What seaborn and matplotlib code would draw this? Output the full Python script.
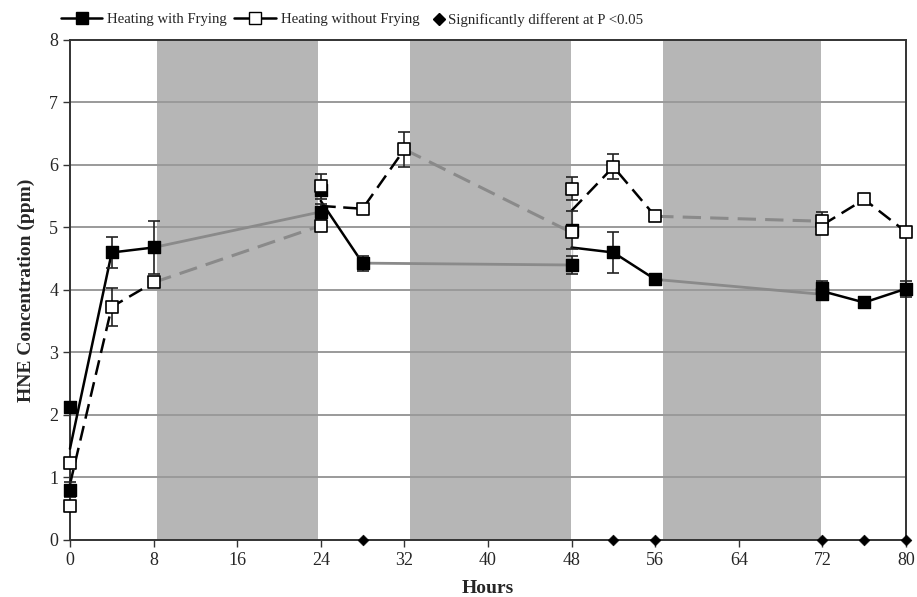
import matplotlib
matplotlib.use("Agg")
import matplotlib.pyplot as plt
import seaborn as sns
import pandas as pd
import numpy as np
from matplotlib.lines import Line2D

# ---------------- data ----------------
fry_hours = [0, 0, 4, 8, 24, 24, 28, 48, 48, 52, 56, 72, 72, 76, 80]
fry_hne = [0.80, 2.12, 4.60, 4.68, 5.25, 5.60, 4.43, 4.40, 4.96, 4.60, 4.17, 3.93, 4.03, 3.80, 4.02]
fry_sd = [0.12, 0.05, 0.25, 0.42, 0.12, 0.10, 0.12, 0.15, 0.30, 0.33, 0.05, 0.05, 0.12, 0.05, 0.13]
fry_day = [1, 1, 1, 1, 2, 2, 2, 3, 3, 3, 3, 4, 4, 4, 4]

nofry_hours = [0, 0, 4, 8, 24, 24, 28, 32, 48, 48, 52, 56, 72, 72, 76, 80]
nofry_hne = [0.55, 1.23, 3.73, 4.12, 5.03, 5.66, 5.30, 6.25, 4.92, 5.62, 5.97, 5.18, 5.10, 4.98, 5.45, 4.93]
nofry_sd = [0.05, 0.05, 0.30, 0.05, 0.05, 0.20, 0.05, 0.28, 0.08, 0.18, 0.20, 0.03, 0.15, 0.05, 0.08, 0.03]
nofry_day = [1, 1, 1, 1, 2, 2, 2, 2, 3, 3, 3, 3, 4, 4, 4, 4]

sig_hours = [28, 52, 56, 72, 76, 80]
night_periods = [(8.3, 23.7), (32.5, 47.9), (56.7, 71.9)]

x_ticks = [0, 8, 16, 24, 32, 40, 48, 56, 64, 72, 80]
y_ticks = [0, 1, 2, 3, 4, 5, 6, 7, 8]

fry = pd.DataFrame({"Hours": fry_hours, "HNE": fry_hne, "SD": fry_sd, "Day": fry_day})
nofry = pd.DataFrame({"Hours": nofry_hours, "HNE": nofry_hne, "SD": nofry_sd, "Day": nofry_day})

# ---------------- style ----------------
sns.set_theme(style="white")
plt.rcParams["font.family"] = ["Liberation Serif", "DejaVu Serif"]

fig = plt.figure(figsize=(9.17, 5.97), dpi=100)
ax = fig.add_axes([0.0763, 0.0955, 0.9117, 0.8375])

GREY_SHADE = "#b6b6b6"
GREY_LINE = "#8a8a8a"
GRID = "#9a9a9a"

for a, b in night_periods:
    ax.axvspan(a, b, color=GREY_SHADE, lw=0, zorder=0)

for y in y_ticks[1:-1]:
    ax.axhline(y, color=GRID, lw=1.4, zorder=1)

dash = (6, 3)

def overnight(df):
    days = sorted(df["Day"].unique())
    rows = []
    for i, d in enumerate(days[:-1]):
        last = df[df["Day"] == d].iloc[-1]
        first = df[df["Day"] == days[i + 1]].iloc[0]
        rows.append({"Hours": last["Hours"], "HNE": last["HNE"], "Seg": i})
        rows.append({"Hours": first["Hours"], "HNE": first["HNE"], "Seg": i})
    return pd.DataFrame(rows)

# overnight grey connectors
on_f = overnight(fry)
for s, g in on_f.groupby("Seg"):
    sns.lineplot(data=g, x="Hours", y="HNE", sort=False, color=GREY_LINE, lw=2.0,
                 ax=ax, zorder=2, legend=False)
on_n = overnight(nofry)
for s, g in on_n.groupby("Seg"):
    sns.lineplot(data=g, x="Hours", y="HNE", sort=False, color=GREY_LINE, lw=2.2,
                 ax=ax, zorder=2, legend=False)
    ax.lines[-1].set_dashes(dash)

# daytime black lines
for d, g in fry.groupby("Day"):
    sns.lineplot(data=g, x="Hours", y="HNE", sort=False, color="black", lw=1.8,
                 ax=ax, zorder=3, legend=False)
for d, g in nofry.groupby("Day"):
    sns.lineplot(data=g, x="Hours", y="HNE", sort=False, color="black", lw=1.8,
                 ax=ax, zorder=3, legend=False)
    ax.lines[-1].set_dashes(dash)

for ln in ax.lines:
    ln.set_clip_on(False)

# error bars
for df in (fry, nofry):
    eb = ax.errorbar(df["Hours"], df["HNE"], yerr=df["SD"], fmt="none", ecolor="#222222",
                     elinewidth=1.2, capsize=4, capthick=1.2, zorder=4)
    for art in eb.lines[1] + eb.lines[2]:
        art.set_clip_on(False)

# markers
sns.scatterplot(data=fry, x="Hours", y="HNE", marker="s", s=80, color="black",
                edgecolor="black", linewidth=1, ax=ax, zorder=5, legend=False, clip_on=False)
sns.scatterplot(data=nofry, x="Hours", y="HNE", marker="s", s=80, color="white",
                edgecolor="black", linewidth=1.2, ax=ax, zorder=6, legend=False, clip_on=False)

sig = pd.DataFrame({"Hours": sig_hours, "y": [0] * len(sig_hours)})
sns.scatterplot(data=sig, x="Hours", y="y", marker="D", s=30, color="black",
                edgecolor="black", ax=ax, zorder=7, legend=False, clip_on=False)

# axes
ax.set_xlim(0, 80)
ax.set_ylim(0, 8)
ax.set_xticks(x_ticks)
ax.set_yticks(y_ticks)
ax.tick_params(axis="both", labelsize=13, length=5, width=1, color="#333333",
               direction="out", bottom=True, left=True)
ax.set_xlabel("Hours", fontsize=14, fontweight="bold", labelpad=8)
ax.set_ylabel("HNE Concentration (ppm)", fontsize=14, fontweight="bold", labelpad=10)
for sp in ax.spines.values():
    sp.set_visible(True)
    sp.set_color("#333333")
    sp.set_linewidth(1.4)

handles = [
    Line2D([0], [0], color="black", lw=1.8, marker="s", markersize=9,
           markerfacecolor="black", markeredgecolor="black"),
    Line2D([0], [0], color="black", lw=1.8, marker="s", markersize=9,
           markerfacecolor="white", markeredgecolor="black"),
]
labels = ["Heating with Frying", "Heating without Frying"]
fig.legend(handles, labels, loc="upper left", bbox_to_anchor=(0.060, 0.988), ncol=2,
           frameon=False, fontsize=10.6, handlelength=2.8, handletextpad=0.35,
           columnspacing=0.5, borderaxespad=0)
fig.legend([Line2D([0], [0], color="none", marker="D", markersize=6,
                   markerfacecolor="black", markeredgecolor="black")],
           ["Significantly different at P <0.05"], loc="upper left",
           bbox_to_anchor=(0.466, 0.988), frameon=False, fontsize=10.6,
           handlelength=0.8, handletextpad=0.2, borderaxespad=0)

fig.savefig("out.png", dpi=100)
